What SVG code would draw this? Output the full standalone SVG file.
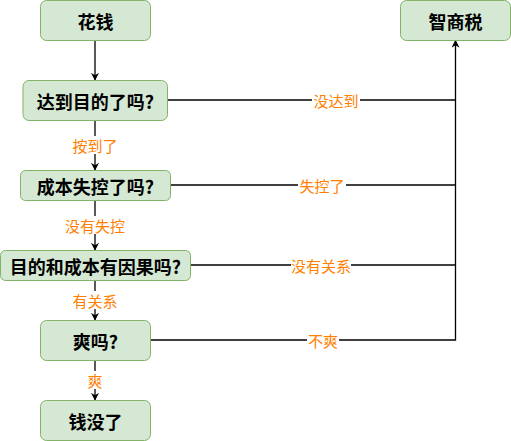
<svg xmlns="http://www.w3.org/2000/svg" width="511" height="441" viewBox="0 0 511 441">
<style>
.n rect{fill:#d5e8d4;stroke:#82b366;stroke-width:1}
.n text{font-family:"Noto Sans CJK SC","Liberation Sans",sans-serif;font-size:18px;font-weight:bold;fill:#000;text-anchor:middle;dominant-baseline:central}
.e path{fill:none;stroke:#000;stroke-width:1.3}
.l rect{fill:#fff}
.l text{font-family:"Noto Sans CJK SC","Liberation Sans",sans-serif;font-size:15px;fill:#ff8000;text-anchor:middle;dominant-baseline:central}
</style>
<defs>
<marker id="a" viewBox="0 0 10 10" refX="9" refY="5" markerWidth="8" markerHeight="8" markerUnits="userSpaceOnUse" orient="auto">
<path d="M0,0 L10,5 L0,10 L3,5 Z" fill="#000"/>
</marker>
</defs>
<g class="e" id="connectors">
<path d="M95,40.5 V80" marker-end="url(#a)"/>
<path d="M95,120.5 V170" marker-end="url(#a)"/>
<path d="M95,200.5 V250" marker-end="url(#a)"/>
<path d="M95,280.5 V320" marker-end="url(#a)"/>
<path d="M95,360.5 V400" marker-end="url(#a)"/>
<path d="M167.5,100 H455.5"/>
<path d="M170.5,185 H455.5"/>
<path d="M190.5,265 H455.5"/>
<path d="M150.5,340 H455.5 V40.5" marker-end="url(#a)"/>
</g>
<g class="l" id="labels">
<rect x="78" y="136" width="34" height="18"/><text x="95" y="145">按到了</text>
<rect x="66" y="216" width="58" height="18"/><text x="95" y="225">没有失控</text>
<rect x="72" y="291" width="46" height="18"/><text x="95" y="300">有关系</text>
<rect x="86" y="371" width="18" height="18"/><text x="95" y="380">爽</text>
<rect x="312" y="91" width="48" height="18"/><text x="336" y="100">没达到</text>
<rect x="298" y="176" width="48" height="18"/><text x="322" y="185">失控了</text>
<rect x="291" y="256" width="60" height="18"/><text x="321" y="265">没有关系</text>
<rect x="307" y="331" width="32" height="18"/><text x="323" y="340">不爽</text>
</g>
<g class="n" id="n1"><rect x="40.5" y="0.5" width="110" height="40" rx="6"/><text x="95.5" y="20.5">花钱</text></g>
<g class="n" id="n2"><rect x="23" y="80.5" width="144.5" height="40" rx="6"/><text x="95.5" y="100.5">达到目的了吗?</text></g>
<g class="n" id="n3"><rect x="20.5" y="170.5" width="150" height="30" rx="5"/><text x="95.5" y="185.5">成本失控了吗?</text></g>
<g class="n" id="n4"><rect x="0.5" y="250.5" width="190" height="30" rx="5"/><text x="95.5" y="265.5">目的和成本有因果吗?</text></g>
<g class="n" id="n5"><rect x="40.5" y="320.5" width="110" height="40" rx="6"/><text x="95.5" y="340.5">爽吗?</text></g>
<g class="n" id="n6"><rect x="40.5" y="400.5" width="110" height="40" rx="6"/><text x="95.5" y="420.5">钱没了</text></g>
<g class="n" id="n7"><rect x="400.5" y="0.5" width="110" height="40" rx="6"/><text x="455.5" y="20.5">智商税</text></g>
</svg>
